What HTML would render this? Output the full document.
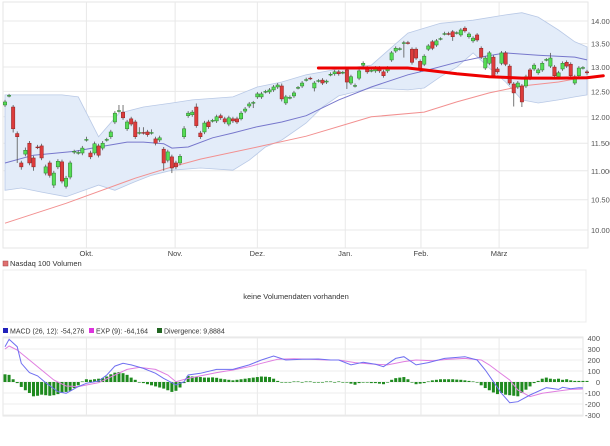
<!DOCTYPE html>
<html><head><meta charset="utf-8"><style>
html,body{margin:0;padding:0;background:#fff;}
svg{display:block;font-family:"Liberation Sans",sans-serif;}
</style></head><body>
<svg id="c" width="610" height="446" viewBox="0 0 610 446" xmlns="http://www.w3.org/2000/svg"></svg>
<script>
const opens=[12230,12410,12190,11680,11140,11300,11500,11230,11430,11450,10960,11140,10750,11070,11160,10730,10890,11340,11320,11320,11560,11320,11320,11450,11410,11560,11620,11900,12110,12090,11770,11960,11900,11690,11700,11710,11690,11580,11560,11390,11190,11250,11140,11140,11620,12020,12040,12190,11690,11710,11900,11920,11920,12020,11960,11860,11960,11960,11960,12110,12210,12270,12390,12390,12490,12490,12530,12590,12610,12270,12370,12410,12570,12610,12730,12770,12570,12710,12730,12690,12840,12860,12900,12880,12940,12670,12610,12770,13040,12980,12920,12920,12980,12900,12920,13150,13340,13380,13510,13520,13380,13380,13120,13060,13380,13540,13470,13600,13710,13720,13760,13730,13690,13840,13650,13560,13690,13400,12980,13080,13210,12960,13080,13300,13020,12650,12590,12610,12610,12940,12960,12880,12940,13150,13020,13000,12800,12960,13100,13060,12670,12820,12980,12900];
const closes=[12290,12420,11770,11620,11070,11370,11140,11070,11420,11230,11070,10920,10960,11170,10820,10870,11140,11350,11330,11410,11570,11250,11490,11280,11500,11570,11710,12070,12120,11980,11900,11860,11620,11700,11690,11660,11700,11500,11600,11140,11340,11050,11070,11260,11770,12070,12090,11830,11620,11880,11810,11930,12000,11980,11900,11980,11920,11900,12070,12150,12250,12280,12450,12450,12500,12530,12590,12630,12350,12390,12380,12470,12580,12670,12740,12760,12670,12720,12670,12710,12850,12900,12860,12890,12690,12800,12620,12920,13080,12900,12930,12980,12920,12820,12980,13300,13400,13390,13520,13510,13100,13190,12940,13230,13450,13400,13560,13610,13720,13710,13650,13740,13800,13780,13710,13620,13580,13210,13190,13300,12820,12900,13300,13060,12670,12470,12670,12290,12800,12770,13040,12940,13080,13160,13190,12820,12880,13080,13020,12820,12800,12980,12990,12880];
const highs=[12330,12450,12230,11720,11180,11420,11540,11270,11470,11490,11110,11180,11000,11210,11200,10910,11180,11380,11370,11450,11620,11360,11530,11490,11540,11600,11750,12110,12230,12230,11940,12000,11940,11800,11800,11750,11760,11620,11640,11430,11380,11290,11180,11300,11820,12110,12130,12260,11730,11920,11940,11960,12040,12060,12000,12020,12000,12000,12110,12190,12290,12310,12490,12490,12530,12570,12630,12670,12660,12430,12420,12510,12610,12710,12780,12800,12710,12750,12770,12740,12890,12940,12940,12920,12980,12840,12660,12960,13120,13020,12970,13020,13020,12940,13020,13340,13440,13420,13560,13560,13420,13420,13160,13270,13490,13580,13600,13640,13760,13760,13800,13770,13840,13880,13750,13660,13730,13440,13230,13340,13250,13000,13340,13340,13060,12690,12710,12650,12840,12980,13080,12980,13120,13190,13300,13040,12920,13120,13140,13100,12840,13020,13020,12940];
const lows=[12190,12380,11700,11140,11020,11260,11100,11000,11390,11190,10920,10880,10700,11030,10780,10690,10850,11300,11290,11280,11530,11210,11280,11240,11370,11530,11580,11860,12080,11940,11730,11820,11580,11660,11660,11620,11660,11460,11520,11000,11150,10960,11030,11100,11580,11980,12000,11790,11580,11670,11770,11890,11880,11940,11860,11820,11880,11860,11930,12070,12170,12170,12350,12350,12460,12450,12490,12550,12300,12230,12340,12370,12540,12570,12700,12730,12500,12680,12630,12650,12810,12820,12820,12850,12550,12630,12580,12730,13000,12860,12890,12880,12880,12780,12880,13110,13300,13350,13200,13480,13050,13150,12900,13020,13340,13360,13430,13570,13680,13680,13560,13700,13650,13740,13610,13520,13540,13170,12940,13040,12780,12860,13040,13020,12630,12200,12550,12190,12570,12730,12920,12840,12900,13120,12980,12760,12760,12920,12980,12780,12630,12780,12950,12840];
const upperIdx=[0,14,18,23,28,34,41,46,56,62,68,74,82,90,99,107,115,123,127,131,136,140,143];
const upperVals=[12430,12430,12390,11620,12070,12190,12270,12330,12390,12590,12690,12840,12960,13040,13730,13950,14020,14140,14190,14090,13800,13540,13430];
const lowerIdx=[0,4,9,15,23,27,32,36,41,48,56,60,64,68,74,78,82,90,99,103,107,111,115,119,123,127,131,136,140,143];
const lowerVals=[10660,10700,10630,10550,10750,10660,10810,10920,11010,11050,11010,11190,11430,11560,11880,12190,12410,12570,12530,12570,12800,13000,13300,12980,12690,12330,12270,12330,12390,12430];
const midIdx=[0,7,17,23,30,34,39,41,45,51,56,62,68,74,82,90,99,104,111,118,123,131,140,143];
const midVals=[11140,11280,11350,11430,11520,11520,11490,11410,11430,11600,11690,11810,11900,12020,12330,12590,12840,12940,13100,13230,13300,13250,13210,13150];
const sma200Idx=[0,15,32,41,48,62,74,90,103,111,119,127,136,143];
const sma200Vals=[10110,10440,10870,11070,11210,11430,11630,12000,12090,12290,12470,12610,12690,12800];
const trendIdx=[77,99,103,111,119,127,136,143,147];
const trendVals=[12980,12980,12940,12860,12800,12770,12770,12780,12820];
const priceTicks=[10000,10500,11000,11500,12000,12500,13000,13500,14000];
const priceTickLabels=["10.000","10.500","11.000","11.500","12.000","12.500","13.000","13.500","14.000"];
const months=["Okt.","Nov.","Dez.","Jan.","Feb.","März"];
const monthIdx=[20.0,41.8,62.0,83.6,102.2,121.4];
const macdIdx=[0,1,3,4,6,8,10,13,15,18,20,23,25,27,29,31,34,37,39,41,42,44,45,48,52,56,60,63,66,69,73,77,80,82,85,88,91,93,96,98,101,104,108,113,116,118,120,122,124,126,129,133,136,137,139,141,142];
const macdVals=[321,388,321,170,85,55,-6,-88,-103,-42,-12,9,64,145,170,155,124,79,33,-6,-27,3,64,79,115,115,155,200,236,200,206,209,200,200,155,179,161,139,215,230,155,176,215,230,200,109,3,-103,-188,-179,-118,-52,-67,-48,-61,-52,-54];
const expIdx=[0,1,3,6,9,12,15,18,20,23,27,30,33,37,40,42,45,48,52,56,60,63,67,71,75,79,82,86,90,94,98,101,105,109,113,117,119,122,124,126,129,132,136,139,142];
const expVals=[300,327,291,200,109,18,-36,-42,-27,-6,64,115,133,115,64,3,33,55,85,109,139,170,206,212,206,200,200,176,164,155,185,200,194,206,215,200,155,73,18,-73,-133,-103,-82,-67,-64];
const divVals=[70,65,25,-10,-45,-75,-100,-130,-125,-115,-120,-125,-120,-110,-100,-90,-80,-55,-30,5,25,20,25,30,35,50,70,85,90,80,65,40,20,0,-10,-20,-30,-40,-50,-60,-75,-90,-80,-50,-10,55,50,45,45,40,40,42,38,30,25,20,15,20,25,30,35,40,45,50,48,45,30,10,0,-5,-5,5,5,0,5,5,0,0,-5,5,5,0,5,0,-5,-15,-25,-10,-5,-5,-10,-10,-15,-20,-5,20,35,40,45,25,0,-20,-15,-10,5,15,20,25,25,25,25,22,20,15,10,5,-5,-30,-55,-75,-95,-110,-100,-115,-120,-125,-130,-100,-70,-40,-10,10,30,40,30,25,30,20,25,15,10,10,10,10];
const macdTicks=[400,300,200,100,0,-100,-200,-300];

const svg=document.getElementById('c');
const NS='http://www.w3.org/2000/svg';
function el(tag,attrs,parent){const e=document.createElementNS(NS,tag);for(const k in attrs)e.setAttribute(k,attrs[k]);(parent||svg).appendChild(e);return e;}
const xI=i=>5+i*4.07;
const yP=p=>230-1430*Math.log10(p/10000);
const yM=v=>382-v*0.11;
function pathOf(idx,vals,yf){return idx.map((d,k)=>(k?'L':'M')+xI(d).toFixed(1)+' '+yf(vals[k]).toFixed(1)).join(' ');}

const grid=el('g',{});


el('rect',{x:3,y:2,width:585,height:246,fill:'none',stroke:'#e6e6e6'},grid);
priceTicks.forEach((p,k)=>{
  el('line',{x1:3,x2:588,y1:yP(p),y2:yP(p),stroke:'#e8e8e8'},grid);
  const t=el('text',{x:591,y:yP(p)+3,'font-size':7.5,fill:'#555'});
  t.textContent=priceTickLabels[k];
  
  
});
monthIdx.forEach((m,k)=>{
  el('line',{x1:xI(m),x2:xI(m),y1:2,y2:248,stroke:'#e8e8e8'},grid);
  el('line',{x1:xI(m),x2:xI(m),y1:337,y2:416,stroke:'#e8e8e8'},grid);
  const t=el('text',{x:xI(m),y:256,'font-size':7.5,fill:'#444','text-anchor':'middle'});
  t.textContent=months[k];
  
  
});

let bd='M'+upperIdx.map((d,k)=>xI(d).toFixed(1)+' '+yP(upperVals[k]).toFixed(1)).join(' L');
for(let k=lowerIdx.length-1;k>=0;k--) bd+=' L'+xI(lowerIdx[k]).toFixed(1)+' '+yP(lowerVals[k]).toFixed(1);
bd+='Z';
const band=el('path',{d:bd,fill:'#e3ecf9',stroke:'#b9c9e6','stroke-width':0.8});


const mid=el('path',{d:pathOf(midIdx,midVals,yP),fill:'none',stroke:'#7777cc','stroke-width':1});


const s200=el('path',{d:pathOf(sma200Idx,sma200Vals,yP),fill:'none',stroke:'#f29090','stroke-width':1});



const cg=el('g',{});


opens.forEach((o,i)=>{
  const c=closes[i],x=xI(i),up=c>=o;
  const g=el('g',{},cg);
  
  
  el('line',{x1:x,x2:x,y1:yP(highs[i]),y2:yP(lows[i]),stroke:'#555','stroke-width':0.8},g);
  const top=yP(Math.max(o,c)),bot=yP(Math.min(o,c));
  el('rect',{x:x-1.7,y:top,width:3.4,height:Math.max(bot-top,0.8),fill:up?'#55dd55':'#dd3c3c',stroke:up?'#2d7a2d':'#8a2222','stroke-width':0.5},g);
});
const tr=el('path',{d:pathOf(trendIdx,trendVals,yP),fill:'none',stroke:'#ee0000','stroke-width':3,'stroke-linecap':'round'});



const vl=el('rect',{x:3,y:261,width:5,height:5,fill:'#e07070',stroke:'#a04040','stroke-width':0.5});


const vt=el('text',{x:10,y:266,'font-size':7.5,fill:'#333'});vt.textContent='Nasdaq 100 Volumen';


const vb=el('rect',{x:3,y:270,width:583,height:52,fill:'none',stroke:'#ececec'});


const vn=el('text',{x:296,y:299,'font-size':7.5,fill:'#333','text-anchor':'middle'});vn.textContent='keine Volumendaten vorhanden';



const leg=[[3,'#2222bb','MACD (26, 12): -54,276','macd-legend'],[89,'#dd33dd','EXP (9): -64,164','exp-legend'],[157,'#226622','Divergence: 9,8884','divergence-legend']];
leg.forEach(l=>{
  const g=el('g',{});
  
  
  el('rect',{x:l[0],y:328,width:5,height:5,fill:l[1]},g);
  const t=el('text',{x:l[0]+7,y:333.5,'font-size':7,fill:'#333'},g);t.textContent=l[2];
});
const mg=el('g',{});


el('rect',{x:3,y:337,width:580,height:79,fill:'none',stroke:'#e6e6e6'},mg);
macdTicks.forEach(v=>{
  el('line',{x1:3,x2:583,y1:yM(v),y2:yM(v),stroke:'#ececec'},mg);
  const t=el('text',{x:600,y:yM(v)+3,'font-size':7.5,fill:'#555','text-anchor':'end'});t.textContent=String(v);
  
  
});
divVals.forEach((v,i)=>{
  const r=el('rect',{x:xI(i)-1.5,y:Math.min(yM(v),yM(0)),width:3,height:Math.max(Math.abs(yM(v)-yM(0)),0.6),fill:'#1f8a1f'});
  
  
});
const ex=el('path',{d:pathOf(expIdx,expVals,yM),fill:'none',stroke:'#e07ee0','stroke-width':1});


const mc=el('path',{d:pathOf(macdIdx,macdVals,yM),fill:'none',stroke:'#6f6ff0','stroke-width':1});


</script>
</body></html>
